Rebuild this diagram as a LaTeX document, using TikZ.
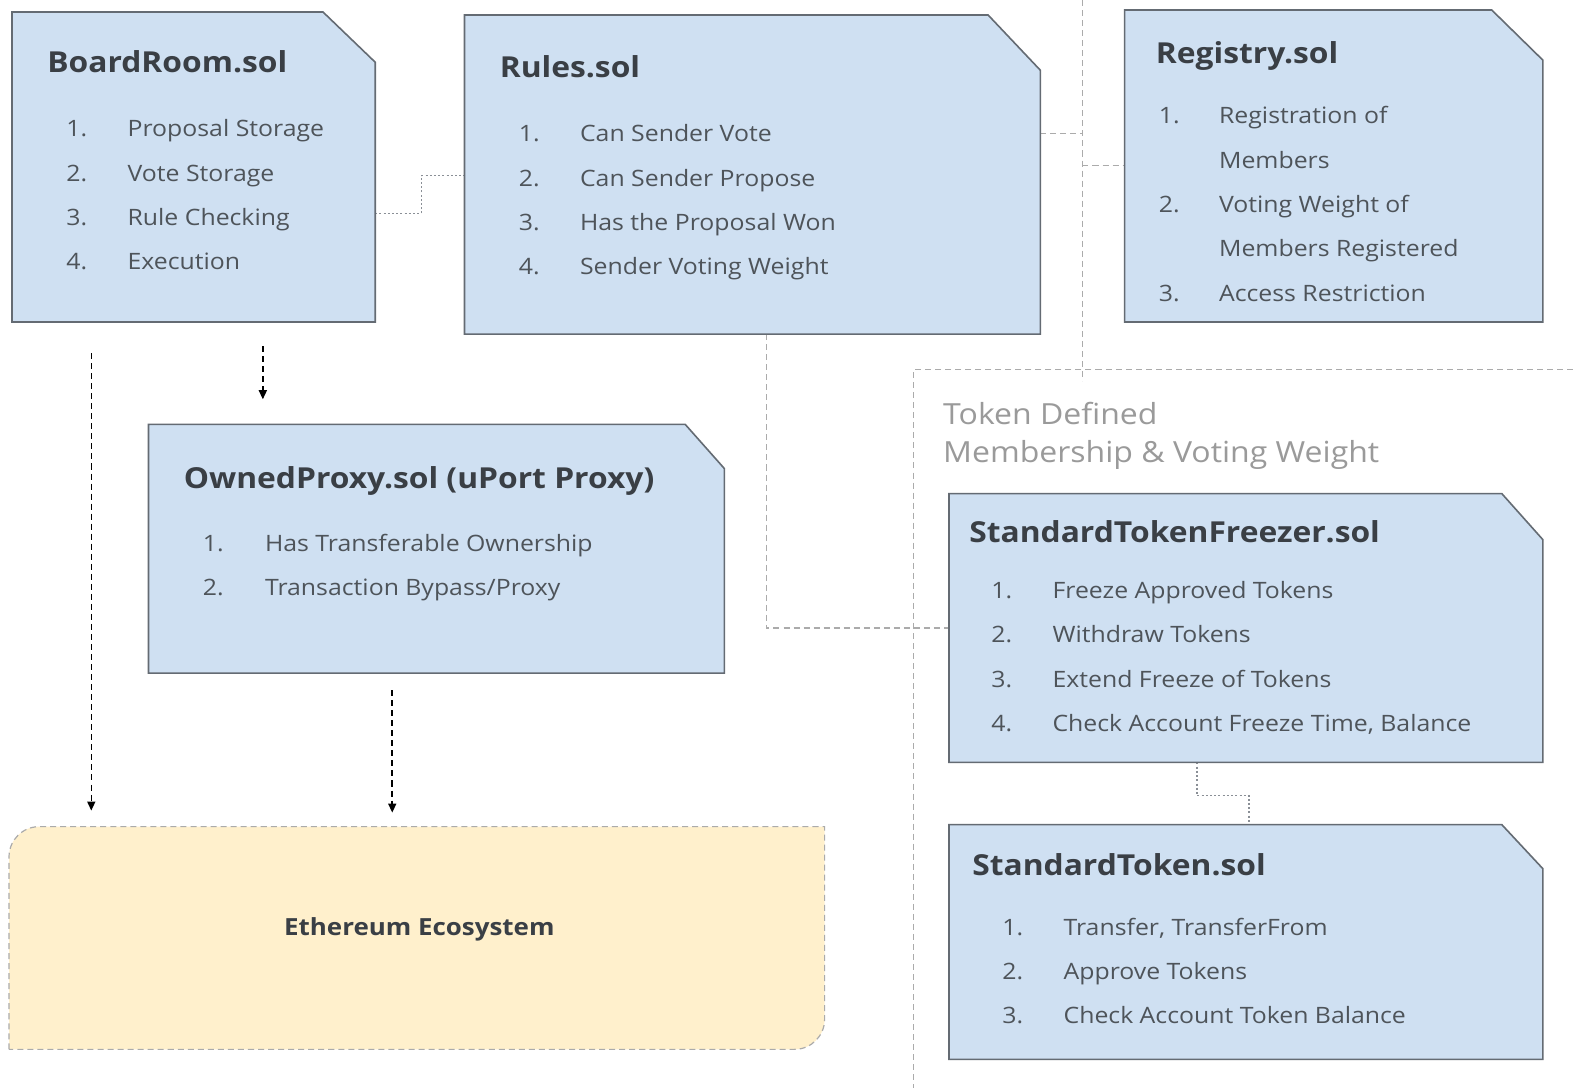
\documentclass[tikz,border=0pt]{standalone}
\usepackage{fontspec}
\setmainfont{Open Sans}[FakeStretch=1.1]
\usetikzlibrary{arrows.meta}
\definecolor{boxfill}{HTML}{CFE0F2}
\definecolor{boxline}{HTML}{646B73}
\definecolor{titlec}{HTML}{3A3F45}
\definecolor{itemc}{HTML}{4E545A}
\definecolor{regc}{HTML}{9A9A9A}
\definecolor{grayline}{HTML}{ABABAB}
\definecolor{dotc}{HTML}{8A8F96}
\definecolor{ethfill}{HTML}{FFF0CC}
\newcommand\cutbox[3]{\draw[boxshape] (#1.north west) -- ([xshift=-#2]#1.north east) -- ([yshift=-#3]#1.north east) -- (#1.south east) -- (#1.south west) -- cycle;}
\begin{document}
\begin{tikzpicture}[x=1pt,y=-1pt,
  area/.style={draw=none,inner sep=0,outer sep=0},
  boxshape/.style={fill=boxfill,draw=boxline,line width=1.6pt,line join=miter},
  ttl/.style={anchor=base west,inner sep=0,text=titlec,font=\fontsize{28.8}{32}\selectfont\bfseries},
  itm/.style={anchor=base west,inner sep=0,text=itemc,font=\fontsize{22.5}{26}\selectfont},
  regtxt/.style={anchor=base west,inner sep=0,text=regc,font=\fontsize{29}{32}\selectfont},
  grayd/.style={draw=grayline,line width=1.1pt,dash pattern=on 6pt off 4pt},
  dotd/.style={draw=dotc,line width=1.6pt,dash pattern=on 2pt off 2.2pt},
  arr/.style={draw=black,line width=1.5pt,dash pattern=on 6pt off 4pt,-{Triangle[width=8pt,length=9pt]}}
]
\useasboundingbox (0,0) rectangle (1568,1085);
\fill[white] (0,0) rectangle (1568,1085);

% region lines
\draw[grayd] (1079,0) -- (1079,380);
\draw[grayd] (1568,368) -- (911,368) -- (911,1085);

% box areas
\node[area,minimum width=362pt,minimum height=309pt] (board) at (193,166.5) {};
\node[area,minimum width=574pt,minimum height=318pt] (rules) at (750,174) {};
\node[area,minimum width=417pt,minimum height=311pt] (registry) at (1329.5,165.5) {};
\node[area,minimum width=574pt,minimum height=248pt] (proxy) at (435,547) {};
\node[area,minimum width=592pt,minimum height=268pt] (freezer) at (1242,626) {};
\node[area,minimum width=592pt,minimum height=234pt] (token) at (1242,939) {};

% connectors (behind boxes)
\draw[grayd] (rules.south -| 764,0) -- (764,626) -- (freezer.west |- 0,626);
\draw[grayd] (rules.east |- 0,133) -- (1079,133);
\draw[grayd] (1079,165) -- (registry.west |- 0,165);
\draw[dotd] (board.east |- 0,213) -- (420,213) -- (420,175) -- (rules.west |- 0,175);
\draw[dotd] (freezer.south -| 1193,0) -- (1193,793) -- (1245,793) -- (token.north -| 1245,0);

\cutbox{board}{52pt}{50pt}
\cutbox{rules}{52pt}{55pt}
\cutbox{registry}{51pt}{50pt}
\cutbox{proxy}{39pt}{44pt}
\cutbox{freezer}{41pt}{46pt}
\cutbox{token}{41pt}{44pt}

% Ethereum
\draw[fill=ethfill,draw=grayline,line width=1.2pt,dash pattern=on 6pt off 4pt]
  (9,1046) -- (9,854) arc[start angle=180,end angle=90,radius=30pt] -- (822,824)
  -- (822,1016) arc[start angle=0,end angle=-90,radius=30pt] -- cycle;
\node[inner sep=0,text=titlec,font=\fontsize{23.5}{26}\selectfont\bfseries] (eth) at (418,926) {Ethereum Ecosystem};

% arrows
\coordinate (a1s) at (91,352); \coordinate (a1e) at (91,808);
\coordinate (a2s) at (262,345); \coordinate (a2e) at (262,398);
\coordinate (a3s) at (391,688); \coordinate (a3e) at (391,810);
\draw[arr] (a1s) -- (a1e);
\draw[arr] (a2s) -- (a2e);
\draw[arr] (a3s) -- (a3e);

% BoardRoom
\node[ttl] (boardt) at (47,72.5) {BoardRoom.sol};
\foreach \t [count=\i] in {Proposal Storage, Vote Storage, Rule Checking, Execution} {
  \node[itm] (boardn\i) at (66,{136.5+44*(\i-1)}) {\i.};
  \node[itm] (boardi\i) at (127,{136.5+44*(\i-1)}) {\t};
}
% Rules
\node[ttl] (rulest) at (498,77.5) {Rules.sol};
\foreach \t [count=\i] in {Can Sender Vote, Can Sender Propose, Has the Proposal Won, Sender Voting Weight} {
  \node[itm] (rulesn\i) at (517,{141.5+44*(\i-1)}) {\i.};
  \node[itm] (rulesi\i) at (578,{141.5+44*(\i-1)}) {\t};
}
% Registry
\node[ttl] (registryt) at (1152,63.5) {Registry.sol};
\node[itm] (regn1) at (1155,123.5) {1.};
\node[itm] (regi1) at (1215,123.5) {Registration of};
\node[itm] (regi1b) at (1215,167.5) {Members};
\node[itm] (regn2) at (1155,211.5) {2.};
\node[itm] (regi2) at (1215,211.5) {Voting Weight of};
\node[itm] (regi2b) at (1215,255.5) {Members Registered};
\node[itm] (regn3) at (1155,300.5) {3.};
\node[itm] (regi3) at (1215,300.5) {Access Restriction};
% OwnedProxy
\node[ttl] (proxyt) at (183,486.5) {OwnedProxy.sol (uPort Proxy)};
\foreach \t [count=\i] in {Has Transferable Ownership, Transaction Bypass/Proxy} {
  \node[itm] (proxyn\i) at (202,{549.5+44*(\i-1)}) {\i.};
  \node[itm] (proxyi\i) at (264,{549.5+44*(\i-1)}) {\t};
}
% region label
\node[regtxt] (reg1) at (940,423.5) {Token Defined};
\node[regtxt] (reg2) at (940,461.5) {Membership \& Voting Weight};
% Freezer
\node[ttl] (freezert) at (966,540.5) {StandardTokenFreezer.sol};
\foreach \t [count=\i] in {Freeze Approved Tokens, Withdraw Tokens, Extend Freeze of Tokens, {Check Account Freeze Time, Balance}} {
  \node[itm] (freezern\i) at (988,{596.5+44.3*(\i-1)}) {\i.};
  \node[itm] (freezeri\i) at (1049,{596.5+44.3*(\i-1)}) {\t};
}
% Token
\node[ttl] (tokent) at (969,872.5) {StandardToken.sol};
\foreach \t [count=\i] in {{Transfer, TransferFrom}, Approve Tokens, Check Account Token Balance} {
  \node[itm] (tokenn\i) at (999,{932.5+44*(\i-1)}) {\i.};
  \node[itm] (tokeni\i) at (1060,{932.5+44*(\i-1)}) {\t};
}
\end{tikzpicture}
\end{document}
